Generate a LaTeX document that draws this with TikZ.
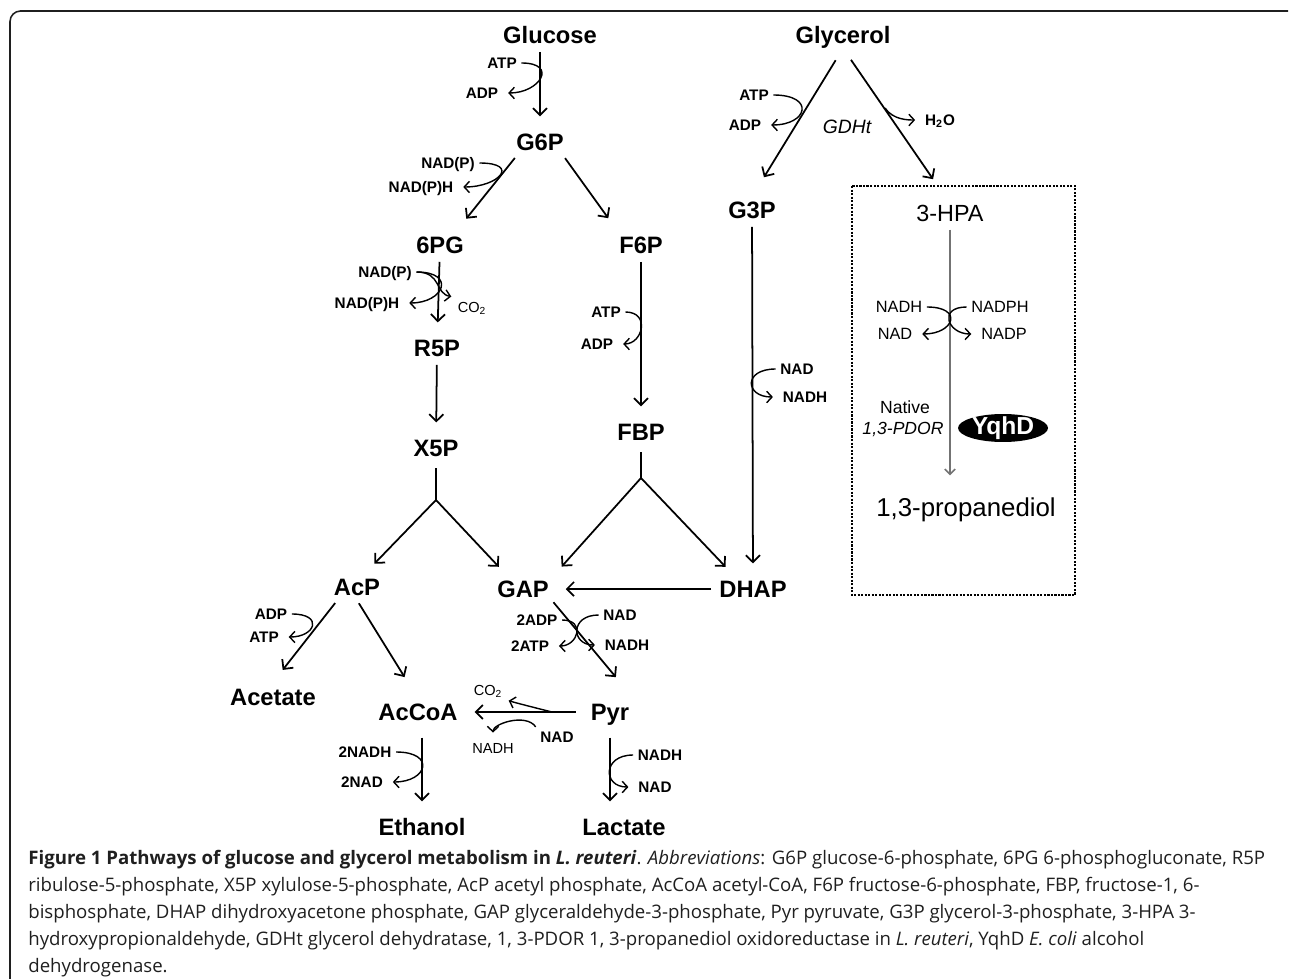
\documentclass[tikz,border=0pt]{standalone}
\usepackage{fontspec}
\newfontfamily\arialfont{Liberation Sans}
\newfontfamily\capfont{Open Sans}
\usetikzlibrary{arrows.meta,shapes.geometric}
\definecolor{ink}{rgb}{.12,.12,.12}
\definecolor{hpagray}{rgb}{.45,.45,.45}

\begin{document}
\begin{tikzpicture}[x=0.02cm,y=-0.02cm,
  met/.style={font={\arialfont\bfseries\fontsize{13.5}{16}\selectfont},inner sep=2.5pt,text height=9.7pt,text depth=0pt},
  pdmet/.style={font={\arialfont\fontsize{13.3}{16}\selectfont},inner sep=2.5pt,text height=9.5pt,text depth=0pt},
  cof/.style={font={\arialfont\bfseries\fontsize{8.7}{10}\selectfont},inner sep=2.5pt,text height=6.2pt,text depth=0pt},
  cofreg/.style={cof,font={\arialfont\fontsize{8.3}{10}\selectfont}},
  boxcof/.style={cof,font={\arialfont\fontsize{9.3}{11}\selectfont}},
  rxn/.style={line width=1pt,-{Straight Barb[length=4pt,width=8pt]},shorten <=2pt,shorten >=7pt},
  stem/.style={line width=1pt,shorten <=4pt},
  cofarr/.style={line width=.8pt,-{Straight Barb[length=3pt,width=6.5pt]},shorten >=3pt}]
\useasboundingbox (0,0) rectangle (1290,979);
\draw[line width=.9pt,rounded corners=6pt,ink] (10,979) -- (10,11) -- (1288,11);

\node[met] (glc) at (550,35) {Glucose};
\node[met] (gly) at (843,35) {Glycerol};
\node[met] (g6p) at (540,142) {G6P};
\node[met] (pg6) at (440,245) {6PG};
\node[met] (f6p) at (641,245) {F6P};
\node[met] (g3p) at (752,210) {G3P};
\node[met] (r5p) at (437,348) {R5P};
\node[met] (x5p) at (436,448) {X5P};
\node[met] (fbp) at (641,432) {FBP};
\node[met] (acp) at (357,587) {AcP};
\node[met] (gap) at (523,589) {GAP};
\node[met] (dhap) at (753,589) {DHAP};
\node[met] (acet) at (273,697) {Acetate};
\node[met] (accoa) at (418,712) {AcCoA};
\node[met] (pyr) at (610,712) {Pyr};
\node[met] (etoh) at (422,827) {Ethanol};
\node[met] (lac) at (624,827) {Lactate};

\coordinate (x5pfork) at (436,500);
\coordinate (fbpfork) at (641,478);
\coordinate (glyw) at (885,108);
\coordinate (pyrw) at (552,712);

\draw[rxn] (g6p |- glc.south) -- (g6p);
\draw[rxn,shorten >=9.5pt] (g6p.210) -- (pg6.40);
\draw[rxn,shorten >=9.5pt] (g6p.330) -- (f6p.150);
\draw[rxn] (pg6) -- (r5p);
\draw[rxn] (r5p) -- (x5p);
\draw[rxn] (f6p) -- (fbp);
\draw[stem] (x5p) -- (x5pfork);
\draw[rxn,shorten <=0pt,shorten >=8pt] (x5pfork) -- (acp.60);
\draw[rxn,shorten <=0pt] (x5pfork) -- (gap.140);
\draw[stem] (fbp) -- (fbpfork);
\draw[rxn,shorten <=0pt] (fbpfork) -- (gap.north east);
\draw[rxn,shorten <=0pt] (fbpfork) -- (dhap.145);
\draw[rxn] (dhap) -- (gap);
\draw[rxn,shorten <=8pt,shorten >=13pt] (gly.south) -- (g3p.north);
\draw[rxn,shorten <=8pt,shorten >=17pt] (gly.south) -- (950,203.8);
\draw[rxn] (g3p) -- (dhap);
\draw[rxn,shorten >=10pt] (acp.214) -- (acet.95);
\draw[rxn,shorten >=14.5pt] (acp.south) -- (accoa.north);
\draw[rxn,shorten <=0pt,shorten >=16pt] (gap.south east) -- (pyr.north east);
\draw[rxn,shorten <=6pt] (pyr) -- (accoa);
\draw[rxn,shorten <=7pt] (accoa.south -| etoh) -- (etoh);
\draw[rxn,shorten <=7pt] (pyr.south) -- (pyr.south |- lac.north);

% cofactors
\node[cof] (atpa) at (502,63) {ATP};
\node[cof] (adpa) at (482,93) {ADP};
\draw[cofarr] (atpa.east) .. controls +(37,0) and +(37,0) .. (adpa.east);
\node[cof] (nadpa) at (448,163) {NAD(P)};
\node[cof] (nadpha) at (421,187) {NAD(P)H};
\draw[cofarr] (nadpa.east) .. controls +(41,0) and +(41,0) .. (nadpha.east);
\node[cof] (nadpb) at (385,272) {NAD(P)};
\node[cof] (nadphb) at (367,303) {NAD(P)H};
\node[cofreg] (co2a) at (472,307) {CO\textsubscript{2}};
\draw[cofarr] (nadpb.east) .. controls +(40,0) and +(40,0) .. (nadphb.east);
\draw[cofarr,shorten >=1pt] (nadpb.east) .. controls +(25,0) and +(-18,-3) .. (co2a.north west);
\node[cof] (atpb) at (606,312) {ATP};
\node[cof] (adpb) at (597,344) {ADP};
\draw[cofarr] (atpb.east) .. controls +(25,0) and +(25,0) .. (adpb.east);
\node[cof] (atpc) at (754,95) {ATP};
\node[cof] (adpc) at (745,125) {ADP};
\draw[cofarr] (atpc.east) .. controls +(42,0) and +(42,0) .. (adpc.east);
\node[font={\arialfont\itshape\fontsize{11}{13}\selectfont}] (gdht) at (847,127) {GDHt};
\node[cof] (h2o) at (940,120) {H\textsubscript{2}O};
\draw[cofarr] (glyw) .. controls +(8,12) and +(-12,0) .. (h2o.west);
\node[cof] (nadc) at (797,369) {NAD};
\node[cof] (nadhc) at (805,397) {NADH};
\draw[cofarr] (nadc.west) .. controls +(-33,0) and +(-33,0) .. (nadhc.west);
\node[cof] (adpd) at (271,614) {ADP};
\node[cof] (atpd) at (264,637) {ATP};
\draw[cofarr] (adpd.east) .. controls +(32,0) and +(32,0) .. (atpd.east);
\node[cof] (adpe) at (537,620) {2ADP};
\node[cof] (atpe) at (530,646) {2ATP};
\draw[cofarr] (adpe.east) .. controls +(24,0) and +(24,0) .. (atpe.east);
\node[cof] (nade) at (620,615) {NAD};
\node[cof] (nadhe) at (627,645) {NADH};
\draw[cofarr] (nade.west) .. controls +(-29,0) and +(-29,0) .. (nadhe.west);
\node[cofreg] (co2b) at (488,690) {CO\textsubscript{2}};
\node[cof] (nadf) at (557,737) {NAD};
\node[cofreg] (nadhf) at (493,748) {NADH};
\draw[cofarr,shorten >=1pt] (pyrw) .. controls +(-12,-3) and +(10,3) .. (co2b.south east);
\draw[cofarr] (nadf.north west) .. controls +(-10,-14) and +(0,-14) .. (nadhf.north);
\node[cof] (nadhg) at (365,752) {2NADH};
\node[cof] (nadg) at (362,782) {2NAD};
\draw[cofarr] (nadhg.east) .. controls +(40,0) and +(40,0) .. (nadg.east);
\node[cof] (nadhl) at (660,755) {NADH};
\node[cof] (nadl) at (655,787) {NAD};
\draw[cofarr] (nadhl.west) .. controls +(-31,0) and +(-31,0) .. (nadl.west);

% 1,3-propanediol box
\draw[line width=1.1pt,dash pattern=on 1.2pt off .8pt] (852,186) rectangle (1075,595);
\node[pdmet] (hpa) at (950,213) {3-HPA};
\node[pdmet,font={\arialfont\fontsize{14.7}{17}\selectfont},text height=10.5pt] (pdo) at (966,507) {1,3-propanediol};
\draw[rxn,hpagray,line width=.9pt,-{Straight Barb[length=3pt,width=6pt]},shorten >=10pt] (hpa.south) -- (hpa.south |- pdo.north);
\node[boxcof] (nadhi) at (899,307) {NADH};
\node[boxcof] (nadi) at (895,334) {NAD};
\node[boxcof] (nadphi) at (1000,307) {NADPH};
\node[boxcof] (nadpi) at (1004,334) {NADP};
\draw[cofarr] (nadhi.east) .. controls +(37,0) and +(37,0) .. (nadi.east);
\draw[cofarr] (nadphi.west) .. controls +(-29,0) and +(-29,0) .. (nadpi.west);
\node[font={\arialfont\fontsize{10}{12}\selectfont}] (nat) at (905,407) {Native};
\node[font={\arialfont\itshape\fontsize{10}{12}\selectfont}] (pdor) at (903,429) {1,3-PDOR};
\node[ellipse,fill=black,text=white,font={\arialfont\bfseries\fontsize{14}{17}\selectfont},inner xsep=0pt,inner ysep=-1.5pt,minimum width=1.8cm,minimum height=0.56cm] (yqhd) at (1003,428) {YqhD};

%\node at (x5pfork){f};
%\node at (fbpfork){f};

\node[anchor=north west,align=left,inner sep=0pt,text=ink,font={\capfont\fontsize{10.6}{15.4}\selectfont}] (cap) at (28,850)
{\textbf{Figure 1 Pathways of glucose and glycerol metabolism in \textit{L. reuteri}}. \textit{Abbreviations}: G6P glucose-6-phosphate, 6PG 6-phosphogluconate, R5P\\
ribulose-5-phosphate, X5P xylulose-5-phosphate, AcP acetyl phosphate, AcCoA acetyl-CoA, F6P fructose-6-phosphate, FBP, fructose-1, 6-\\
bisphosphate, DHAP dihydroxyacetone phosphate, GAP glyceraldehyde-3-phosphate, Pyr pyruvate, G3P glycerol-3-phosphate, 3-HPA 3-\\
hydroxypropionaldehyde, GDHt glycerol dehydratase, 1, 3-PDOR 1, 3-propanediol oxidoreductase in \textit{L. reuteri}, YqhD \textit{E. coli} alcohol\\
dehydrogenase.};
\end{tikzpicture}
\end{document}
